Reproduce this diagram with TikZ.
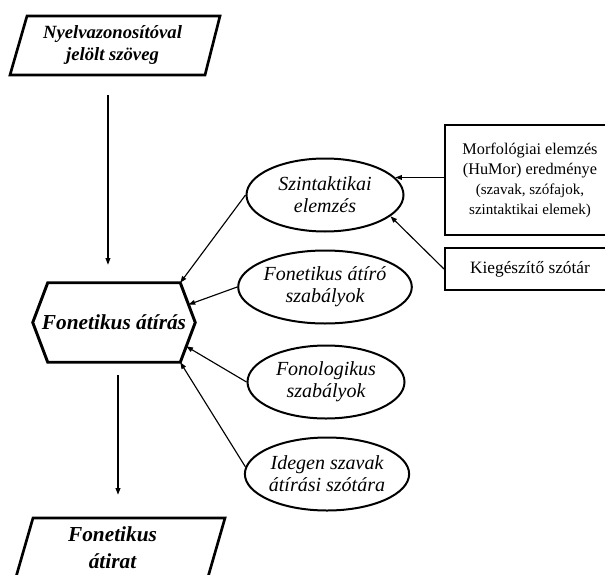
\documentclass[tikz,border=0pt]{standalone}
\usepackage{fontspec}
\setmainfont{Liberation Serif}
\usetikzlibrary{arrows.meta,calc,shapes.geometric}
\begin{document}
\begin{tikzpicture}[x=0.75pt,y=-0.75pt,
 arr/.style={line width=0.85pt,-{Triangle[length=5pt,width=3.6pt]}},
 thickb/.style={line width=2pt, line join=miter},
 ell/.style={ellipse, draw, line width=1.5pt, minimum width=117.75pt, minimum height=54.75pt, inner sep=0pt, align=center, font=\fontsize{15}{16.5}\selectfont\itshape},
 rbox/.style={rectangle, draw, line width=1.5pt, minimum width=127.5pt, align=center, inner sep=0pt},
 para/.style={align=center, inner sep=0pt, minimum height=44.25pt}
]
\useasboundingbox (0,0) rectangle (605,574);

% source parallelogram
\node[para, font=\fontsize{14}{16.5}\selectfont\bfseries\itshape] (src) at (112.5,45.5) {Nyelvazonosítóval\\jelölt szöveg};
\draw[thickb] ($(src.center)+(-85.5,-29.5)$) -- ($(src.center)+(107.5,-29.5)$) -- ($(src.center)+(92.5,29.5)$) -- ($(src.center)+(-102.5,29.5)$) -- cycle;

% hexagon
\node[align=center, inner sep=0pt, minimum width=121.5pt, minimum height=59.25pt, font=\fontsize{16}{19}\selectfont\bfseries\itshape] (hex) at (114,322.5) {Fonetikus átírás};
\coordinate (hNW) at ([xshift=11.25pt]hex.north west);
\coordinate (hNE) at ([xshift=-11.25pt]hex.north east);
\coordinate (hSE) at ([xshift=-11.25pt]hex.south east);
\coordinate (hSW) at ([xshift=11.25pt]hex.south west);
\draw[line width=2.2pt, line join=miter] (hex.west) -- (hNW) -- (hNE) -- (hex.east) -- (hSE) -- (hSW) -- cycle;

% destination parallelogram
\node[para, font=\fontsize{16}{20}\selectfont\bfseries\itshape] (dst) at (112.5,547.5) {Fonetikus\\átirat};
\draw[thickb] ($(dst.center)+(-79.5,-29.5)$) -- ($(dst.center)+(112.5,-29.5)$) -- ($(dst.center)+(95.5,29.5)$) -- ($(dst.center)+(-96.5,29.5)$) -- cycle;

% ellipses
\node[ell] (szint) at (325,195) {Szintaktikai\\elemzés};
\node[ell] (fonet) at (325,287) {Fonetikus átíró\\szabályok};
\node[ell] (fonol) at (326,382) {Fonologikus\\szabályok};
\node[ell] (ideg) at (327,474) {Idegen szavak\\átírási szótára};

% right boxes
\node[rbox, minimum height=82.5pt, font=\fontsize{12.2}{15}\selectfont] (morf) at (530,180) {Morfológiai elemzés\\(HuMor) eredménye\\{\fontsize{11.3}{13.5}\selectfont (szavak, szófajok,}\\{\fontsize{11.3}{13.5}\selectfont szintaktikai elemek)}};
\node[rbox, minimum height=31.5pt, font=\fontsize{13}{15}\selectfont] (kieg) at (530,269) {Kiegészítő szótár};

% connectors
\draw[arr, shorten <=15pt, shorten >=13.5pt] ([xshift=-3.4pt]src.south) -- ([xshift=-3.4pt]src.south |- hex.north);
\draw[arr, shorten <=9.75pt, shorten >=17.25pt] ([xshift=3pt]hex.south) -- ([xshift=3pt]hex.south |- dst.north);
\draw[arr] (morf.west |- szint.14) -- (szint.14);
\draw[arr] (kieg.west) -- (szint.-18);
\draw[arr] (szint.west) -- (hNE);
\draw[arr] (fonet.west) -- ($(hNE)!0.55!(hex.east)$);
\draw[arr] (fonol.west) -- ($(hex.east)!0.6!(hSE)$);
\draw[arr] (ideg.175) -- (hSE);
\end{tikzpicture}
\end{document}
